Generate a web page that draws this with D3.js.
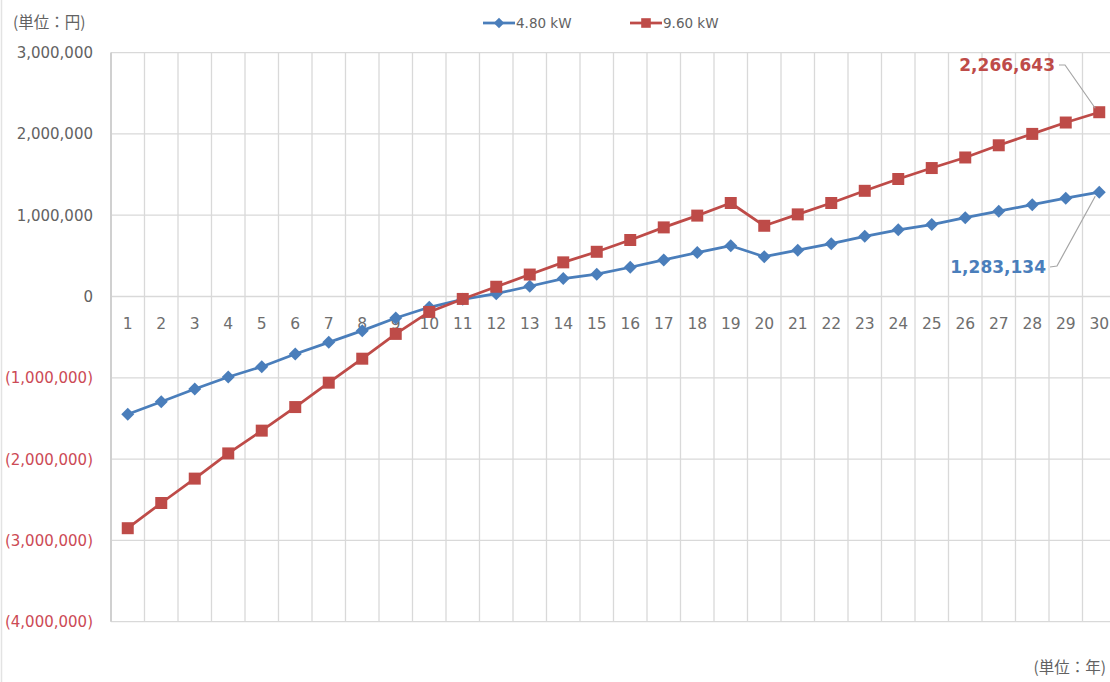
<!DOCTYPE html>
<html>
<head>
<meta charset="utf-8">
<script src="https://cdn.jsdelivr.net/npm/d3@7"></script>
<style>
  html, body { margin: 0; padding: 0; background: #fff; overflow: hidden; }
  svg { display: block; }
  text { font-family: "DejaVu Sans", Verdana, sans-serif; }
  .cjk { font-family: "Noto Sans CJK JP", "Noto Sans", sans-serif; }
</style>
</head>
<body>
<svg id="chart" width="1110" height="682"></svg>
<script>
// Years since installation (x categories)
const years = [1, 2, 3, 4, 5, 6, 7, 8, 9, 10, 11, 12, 13, 14, 15,
               16, 17, 18, 19, 20, 21, 22, 23, 24, 25, 26, 27, 28, 29, 30];

// Cumulative balance in yen, 4.80 kW system
const kw480 = [-1449000, -1294000, -1138000, -990000, -863000, -707000, -564000, -420000, -264000, -133000,
               -35000, 35000, 126000, 220000, 275000, 360000, 450000, 540000, 625000, 490000,
               570000, 650000, 740000, 820000, 885000, 970000, 1050000, 1130000, 1210000, 1283134];

// Cumulative balance in yen, 9.60 kW system
const kw960 = [-2850000, -2540000, -2240000, -1930000, -1650000, -1360000, -1060000, -765000, -460000, -190000,
               -30000, 120000, 270000, 420000, 550000, 695000, 850000, 995000, 1150000, 870000,
               1010000, 1150000, 1300000, 1445000, 1580000, 1710000, 1860000, 2000000, 2140000, 2266643];

const seriesNames = ["4.80 kW", "9.60 kW"];
const yTicks = [3000000, 2000000, 1000000, 0, -1000000, -2000000, -3000000, -4000000];
const yUnit = "(単位：円)";
const xUnit = "(単位：年)";

const BLUE = "#4a7ebb", RED = "#be4b48", GRID = "#d9d9d9", TXT = "#626262", NEG = "#cc4a55";

const svg = d3.select("#chart");

const plot = { left: 111, top: 52.6, colW: 33.5 };
const x = d3.scaleBand().domain(years).range([plot.left, plot.left + plot.colW * years.length]).padding(0);
const y = d3.scaleLinear().domain([-4000000, 3000000]).range([621.7, plot.top]);

// frame line along the left edge
svg.append("line").attr("x1", 1.5).attr("x2", 1.5).attr("y1", 0).attr("y2", 682)
  .attr("stroke", "#e3e3e3").attr("stroke-width", 1.5);

// horizontal gridlines
const g = svg.append("g");
g.selectAll("line.h").data(yTicks).join("line")
  .attr("class", "h")
  .attr("x1", x.range()[0]).attr("x2", x.range()[1])
  .attr("y1", d => y(d)).attr("y2", d => y(d))
  .attr("stroke", GRID).attr("stroke-width", 1.3);

// vertical gridlines at category boundaries
const edges = years.map(d => x(d) + x.bandwidth());
g.selectAll("line.v").data(edges).join("line")
  .attr("class", "v")
  .attr("x1", d => d).attr("x2", d => d)
  .attr("y1", y(3000000)).attr("y2", y(-4000000))
  .attr("stroke", GRID).attr("stroke-width", 1.3);

// value axis line
svg.append("line").attr("x1", plot.left).attr("x2", plot.left)
  .attr("y1", y(3000000)).attr("y2", y(-4000000))
  .attr("stroke", "#d0d0d0").attr("stroke-width", 2);

// y tick labels: negatives in parentheses and red
const fmt = d3.format(",");
svg.append("g").selectAll("text").data(yTicks).join("text")
  .attr("x", 93).attr("y", d => y(d)).attr("dy", "0.36em")
  .attr("text-anchor", "end").attr("font-size", 15)
  .attr("fill", d => d < 0 ? NEG : TXT)
  .text(d => d < 0 ? "(" + fmt(-d) + ")" : fmt(d));

// x category labels just below the zero line
svg.append("g").selectAll("text").data(years).join("text")
  .attr("x", d => x(d) + x.bandwidth() / 2).attr("y", 323).attr("dy", "0.36em")
  .attr("text-anchor", "middle").attr("font-size", 15.5).attr("fill", "#6e6e6e")
  .text(d => d);

// unit labels
svg.append("text").attr("class", "cjk").attr("x", 13).attr("y", 23).attr("dy", "0.35em")
  .attr("font-size", 15.5).attr("fill", TXT).text(yUnit);
svg.append("text").attr("class", "cjk").attr("x", 1106).attr("y", 668).attr("dy", "0.35em")
  .attr("text-anchor", "end").attr("font-size", 15.5).attr("fill", TXT).text(xUnit);

// series lines and markers
const line = d3.line().x((d, i) => x(years[i]) + x.bandwidth() / 2).y(d => y(d));
const diamond = "M0,-6.5L6.5,0L0,6.5L-6.5,0Z";
const square = "M-6,-6H6V6H-6Z";

function drawSeries(values, color, shape) {
  const s = svg.append("g");
  s.append("path").datum(values).attr("d", line)
    .attr("fill", "none").attr("stroke", color).attr("stroke-width", 2.75)
    .attr("stroke-linejoin", "round");
  s.selectAll("path.m").data(values).join("path")
    .attr("class", "m")
    .attr("transform", (d, i) => `translate(${x(years[i]) + x.bandwidth() / 2},${y(d)})`)
    .attr("d", shape).attr("fill", color);
}
drawSeries(kw480, BLUE, diamond);
drawSeries(kw960, RED, square);

// legend
const legend = svg.append("g");
[[seriesNames[0], BLUE, diamond, 483], [seriesNames[1], RED, square, 630]].forEach(([name, color, shape, lx]) => {
  legend.append("line").attr("x1", lx).attr("x2", lx + 32).attr("y1", 23).attr("y2", 23)
    .attr("stroke", color).attr("stroke-width", 2.75);
  legend.append("path").attr("transform", `translate(${lx + 16},23) scale(0.8)`).attr("d", shape).attr("fill", color);
  legend.append("text").attr("x", lx + 33).attr("y", 23).attr("dy", "0.35em")
    .attr("font-size", 13.5).attr("fill", TXT).text(name);
});

// value callouts for the final year
const lastX = x(years[years.length - 1]) + x.bandwidth() / 2;
function callout(value, color, tx, ty, bend) {
  const py = y(value);
  svg.append("polyline")
    .attr("points", [[tx + 2, ty], [bend[0], bend[1]], [lastX - 4, py + (bend[1] < py ? -4 : 4)]].map(p => p.join(",")).join(" "))
    .attr("fill", "none").attr("stroke", "#a6a6a6").attr("stroke-width", 1.2);
  svg.append("text").attr("x", tx - 2).attr("y", ty).attr("dy", "0.36em")
    .attr("text-anchor", "end").attr("font-size", 17).attr("font-weight", "bold")
    .attr("fill", color).text(fmt(value));
}
callout(kw960[kw960.length - 1], RED, 1057, 65, [1065, 65]);
callout(kw480[kw480.length - 1], BLUE, 1048, 267, [1057, 266]);
</script>
</body>
</html>
